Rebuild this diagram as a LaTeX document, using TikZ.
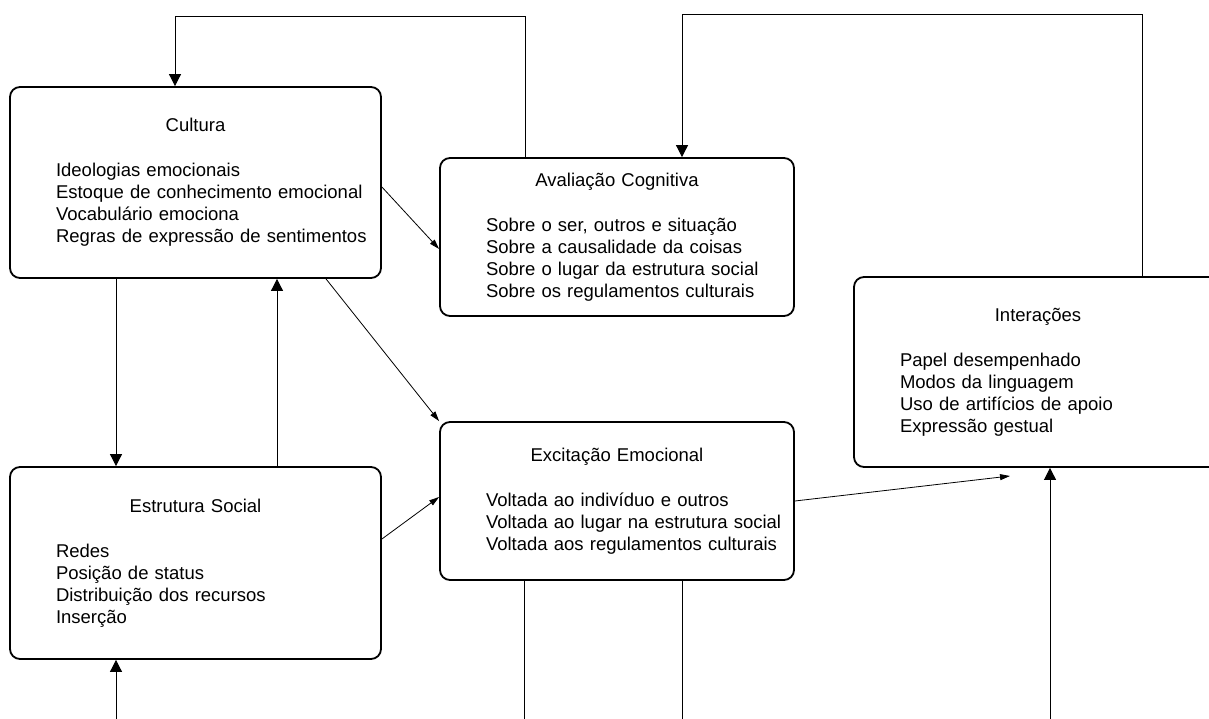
\documentclass[tikz,border=0pt]{standalone}
\usepackage{fontspec}
\setmainfont{Liberation Sans}
\usetikzlibrary{arrows.meta}
\pgfdeclarelayer{edgelayer}
\pgfdeclarelayer{nodelayer}
\pgfsetlayers{edgelayer,nodelayer,main}
\tikzstyle{rounded_box}=[draw=black,line width=1.8pt,rounded corners=10pt,inner xsep=46pt,inner ysep=0pt,align=left,font=\fontsize{18.5pt}{22pt}\selectfont]
\tikzstyle{feed_in}=[-{Triangle[length=12pt,width=12pt]},draw=black,line width=0.8pt]
\tikzstyle{influence}=[-{Triangle[length=10pt,width=6pt]},draw=black,line width=0.8pt]
\tikzstyle{plain_edge}=[draw=black,line width=0.8pt]
\newcommand{\boxhead}[1]{\makebox[\linewidth]{#1}\\[23pt]}
\newcommand{\boxline}[1]{\makebox[\linewidth][l]{#1}}

\begin{document}
\begin{tikzpicture}[x=1pt,y=-1pt]
	\useasboundingbox (0,0) rectangle (1209,719);
	\begin{pgfonlayer}{nodelayer}
		\node [style={rounded_box}, text width=279pt, minimum height=191pt] (cultura) at (195.5, 182.5) {\boxhead{Cultura}\boxline{Ideologias emocionais}\\\boxline{Estoque de conhecimento emocional}\\\boxline{Vocabulário emociona}\\\boxline{Regras de expressão de sentimentos}};
		\node [style={rounded_box}, text width=262pt, minimum height=158pt] (avaliacao) at (617, 237) {\boxhead{Avaliação Cognitiva}\boxline{Sobre o ser, outros e situação}\\\boxline{Sobre a causalidade da coisas}\\\boxline{Sobre o lugar da estrutura social}\\\boxline{Sobre os regulamentos culturais}};
		\node [style={rounded_box}, text width=276pt, minimum height=190pt] (interacoes) at (1038, 372) {\boxhead{Interações}\boxline{Papel desempenhado}\\\boxline{Modos da linguagem}\\\boxline{Uso de artifícios de apoio}\\\boxline{Expressão gestual}};
		\node [style={rounded_box}, text width=262pt, minimum height=158pt] (excitacao) at (617, 501) {\boxhead{Excitação Emocional}\boxline{Voltada ao indivíduo e outros}\\\boxline{Voltada ao lugar na estrutura social}\\\boxline{Voltada aos regulamentos culturais}};
		\node [style={rounded_box}, text width=279pt, minimum height=192pt] (estrutura) at (195.5, 563) {\boxhead{Estrutura Social}\boxline{Redes}\\\boxline{Posição de status}\\\boxline{Distribuição dos recursos}\\\boxline{Inserção}};
	\end{pgfonlayer}
	\coordinate (loop_a) at (175, 16);
	\coordinate (loop_b) at (525, 16);
	\coordinate (loop_c) at (682, 14);
	\coordinate (loop_d) at (1142, 14);
	\coordinate (gap) at (1010, 476);
	\coordinate (foot_a) at (116, 719);
	\coordinate (foot_b) at (524, 719);
	\coordinate (foot_c) at (682, 719);
	\coordinate (foot_d) at (1050, 719);
	\begin{pgfonlayer}{edgelayer}
		\draw [style=feed_in] (avaliacao.north -| loop_b) -- (loop_b) -- (loop_a) -- (cultura.north -| loop_a);
		\draw [style=feed_in] (interacoes.north -| loop_d) -- (loop_d) -- (loop_c) -- (avaliacao.north -| loop_c);
		\draw [style=influence] ([yshift=-4.5pt]cultura.east) -- ([yshift=-12pt]avaliacao.west);
		\draw [style=influence] ([xshift=130.5pt]cultura.south) -- (excitacao.north west);
		\draw [style=feed_in] (cultura.south -| foot_a) -- (estrutura.north -| foot_a);
		\draw [style=feed_in] ([xshift=81.5pt]estrutura.north) -- ([xshift=81.5pt]cultura.south);
		\draw [style=influence] ([yshift=24pt]estrutura.east) -- ([yshift=4pt]excitacao.west);
		\draw [style=influence] (excitacao.east) -- (gap);
		\draw [style=feed_in] (foot_a) -- (estrutura.south -| foot_a);
		\draw [style=plain_edge] (excitacao.south -| foot_b) -- (foot_b);
		\draw [style=plain_edge] (excitacao.south -| foot_c) -- (foot_c);
		\draw [style=feed_in] (foot_d) -- (interacoes.south -| foot_d);
	\end{pgfonlayer}
\end{tikzpicture}
\end{document}
